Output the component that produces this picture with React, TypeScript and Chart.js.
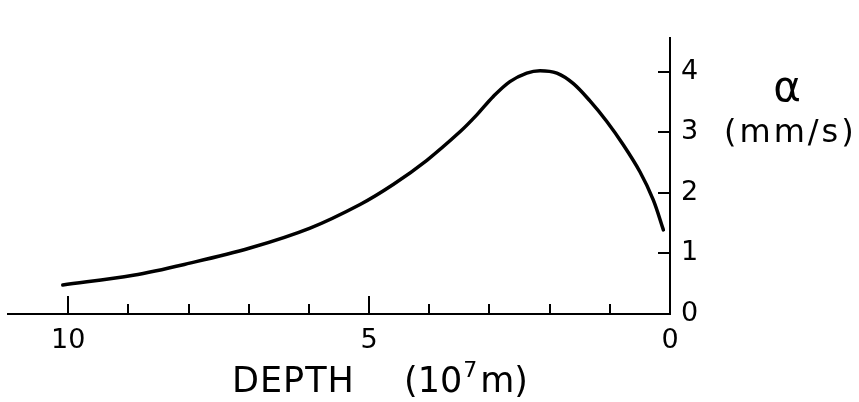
import { useEffect, useRef } from "react";
import { Chart, registerables } from "chart.js";

Chart.register(...registerables);

// Depth (10^7 m) and alpha (mm/s)
const depth = [10.09, 8.92, 7.98, 6.98, 5.98, 5.15, 4.6, 4.04, 3.49, 3.21, 2.94, 2.66, 2.38, 2.16, 1.88, 1.61, 1.33, 1.05, 0.78, 0.5, 0.28, 0.11];
const alpha = [0.48, 0.64, 0.84, 1.09, 1.42, 1.81, 2.14, 2.54, 3.01, 3.29, 3.59, 3.84, 3.98, 4.02, 3.98, 3.81, 3.52, 3.18, 2.8, 2.35, 1.89, 1.39];

const xTickValues = [0, 1, 2, 3, 4, 5, 6, 7, 8, 9, 10];
const xMajorTicks = [0, 5, 10];
const yTickValues = [0, 1, 2, 3, 4];

const xTitle = "DEPTH";
const xUnitPrefix = "(10";
const xUnitExp = "7";
const xUnitSuffix = "m)";
const yTitleSymbol = "α";
const yTitleUnit = "(mm/s)";

const FONT = "'DejaVu Sans', sans-serif";

const axisDecor = {
  id: "axisDecor",
  afterDraw(chart: any) {
    const { ctx, chartArea, scales } = chart;
    const x = scales.x;
    const y = scales.y;
    ctx.save();
    ctx.strokeStyle = "#000";
    ctx.lineWidth = 2;
    // inward ticks on x axis
    for (const v of xTickValues) {
      const px = Math.round(x.getPixelForValue(v));
      const len = xMajorTicks.includes(v) ? 18 : 10;
      ctx.beginPath();
      ctx.moveTo(px, chartArea.bottom);
      ctx.lineTo(px, chartArea.bottom - len);
      ctx.stroke();
    }
    // inward ticks on y axis
    for (const v of yTickValues) {
      const py = Math.round(y.getPixelForValue(v));
      ctx.beginPath();
      ctx.moveTo(chartArea.right, py);
      ctx.lineTo(chartArea.right - 12, py);
      ctx.stroke();
    }
    ctx.fillStyle = "#000";
    ctx.textBaseline = "alphabetic";
    ctx.textAlign = "left";
    // x title
    let cx = 232;
    const base = 392;
    ctx.font = `35px ${FONT}`;
    (ctx as any).letterSpacing = "1px";
    ctx.fillText(xTitle, cx, base);
    (ctx as any).letterSpacing = "0px";
    cx = 404;
    ctx.fillText(xUnitPrefix, cx, base);
    cx += ctx.measureText(xUnitPrefix).width + 1;
    ctx.font = `22px ${FONT}`;
    ctx.fillText(xUnitExp, cx, base - 15);
    cx += ctx.measureText(xUnitExp).width + 3;
    ctx.font = `35px ${FONT}`;
    ctx.fillText(xUnitSuffix, cx, base);
    // y title
    ctx.font = `42px ${FONT}`;
    ctx.textAlign = "center";
    ctx.fillText(yTitleSymbol, 787, 101);
    ctx.font = `32px ${FONT}`;
    ctx.textAlign = "left";
    (ctx as any).letterSpacing = "3px";
    ctx.fillText(yTitleUnit, 724, 142);
    ctx.restore();
  },
};

export default function App() {
  const ref = useRef<HTMLCanvasElement>(null);
  useEffect(() => {
    if (!ref.current) return;
    const chart = new Chart(ref.current, {
      type: "line",
      data: {
        datasets: [
          {
            data: depth.map((d, i) => ({ x: d, y: alpha[i] })),
            borderColor: "#000",
            borderWidth: 3.5,
            pointRadius: 0,
            tension: 0.35,
            borderCapStyle: "round",
            borderJoinStyle: "round",
            fill: false,
          },
        ],
      },
      options: {
        animation: false,
        responsive: false,
        layout: { padding: { left: 8, top: 38, right: 0, bottom: 0 } },
        plugins: { legend: { display: false }, tooltip: { enabled: false } },
        scales: {
          x: {
            type: "linear",
            reverse: true,
            min: 0,
            max: 11,
            position: "bottom",
            afterBuildTicks: (s: any) => {
              s.ticks = xTickValues.map((v) => ({ value: v }));
            },
            afterFit: (s: any) => {
              s.height = 88;
            },
            grid: { display: true, drawOnChartArea: false, drawTicks: false },
            border: { display: true, color: "#000", width: 2 },
            ticks: {
              autoSkip: false,
              maxRotation: 0,
              padding: 11,
              color: "#000",
              font: { family: FONT, size: 27 },
              callback: (v: any) => (xMajorTicks.includes(Number(v)) ? String(v) : ""),
            },
          },
          y: {
            type: "linear",
            position: "right",
            min: 0,
            max: 4.56,
            afterBuildTicks: (s: any) => {
              s.ticks = yTickValues.map((v) => ({ value: v }));
            },
            afterFit: (s: any) => {
              s.width = 189;
            },
            grid: { display: true, drawOnChartArea: false, drawTicks: false },
            border: { display: true, color: "#000", width: 2 },
            ticks: {
              padding: 11,
              color: "#000",
              font: { family: FONT, size: 27 },
              callback: (v: any) => String(v),
            },
          },
        },
      },
      plugins: [axisDecor],
    });
    return () => chart.destroy();
  }, []);
  return (
    <div style={{ position: "absolute", left: 0, top: 0, width: 859, height: 402, background: "#fff" }}>
      <canvas ref={ref} width={859} height={402} />
    </div>
  );
}
